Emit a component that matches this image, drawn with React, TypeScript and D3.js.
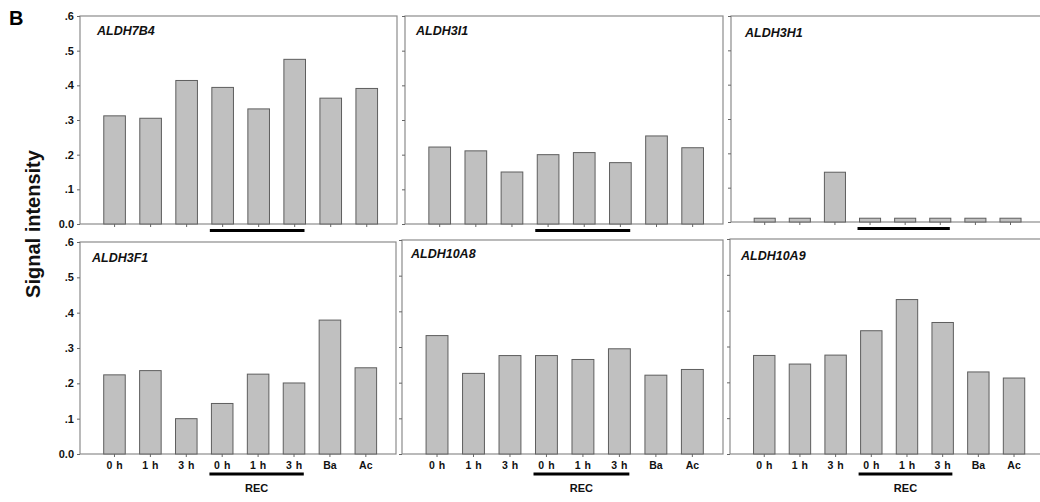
import React, { useRef, useEffect } from "react";
import * as d3 from "d3";

// categories on the x axis (the last three time points are REC)
const categories = ["0 h", "1 h", "3 h", "0 h", "1 h", "3 h", "Ba", "Ac"];
const recIndex = [3, 5];
const yTicks = [0, 0.1, 0.2, 0.3, 0.4, 0.5, 0.6];
const yTickLabels = ["0.0", ".1", ".2", ".3", ".4", ".5", ".6"];

// signal intensity per gene
const ALDH7B4 = [0.312, 0.305, 0.414, 0.394, 0.332, 0.475, 0.363, 0.391];
const ALDH3I1 = [0.222, 0.211, 0.15, 0.2, 0.206, 0.177, 0.254, 0.22];
const ALDH3H1 = [0.011, 0.011, 0.145, 0.011, 0.011, 0.011, 0.011, 0.011];
const ALDH3F1 = [0.224, 0.236, 0.1, 0.143, 0.226, 0.201, 0.379, 0.244];
const ALDH10A8 = [0.332, 0.226, 0.276, 0.276, 0.265, 0.295, 0.221, 0.237];
const ALDH10A9 = [0.275, 0.251, 0.276, 0.344, 0.431, 0.367, 0.229, 0.212];

const FONT = "'Liberation Sans', Arial, sans-serif";

const panels = [
  { name: "ALDH7B4", values: ALDH7B4, x0: 80, x1: 397, top: 16, bottom: 224, tx: 17, ty: 19, showY: true, showX: false, cut: 0 },
  { name: "ALDH3I1", values: ALDH3I1, x0: 405, x1: 723, top: 16, bottom: 224, tx: 11, ty: 19, showY: false, showX: false, cut: 0 },
  { name: "ALDH3H1", values: ALDH3H1, x0: 731, x1: 1040, top: 16, bottom: 222, tx: 14, ty: 21, showY: false, showX: false, cut: 20 },
  { name: "ALDH3F1", values: ALDH3F1, x0: 80, x1: 396, top: 242, bottom: 454, tx: 12, ty: 20, showY: true, showX: true, cut: 0 },
  { name: "ALDH10A8", values: ALDH10A8, x0: 402, x1: 723, top: 240, bottom: 454, tx: 9, ty: 18, showY: false, showX: true, cut: 0 },
  { name: "ALDH10A9", values: ALDH10A9, x0: 730, x1: 1044, top: 239, bottom: 454, tx: 11, ty: 21, showY: false, showX: true, cut: 20 },
];

const App = () => {
  const container = useRef<SVGSVGElement>(null);
  const width = 1040;
  const height = 502;

  useEffect(() => {
    const svg = d3.select(container.current);
    svg.selectAll("*").remove();

    panels.forEach((p) => {
      const x = d3
        .scaleBand<number>()
        .domain(d3.range(categories.length))
        .range([p.x0, p.x1])
        .paddingInner(0.4)
        .paddingOuter(0.6)
        .align(0.55);

      const y = d3.scaleLinear().domain([0, 0.6]).range([p.bottom, p.top]);

      const g = svg.append("g");

      // frame
      g.append("rect")
        .attr("x", p.x0)
        .attr("y", p.top)
        .attr("width", p.x1 - p.x0 + p.cut)
        .attr("height", p.bottom - p.top)
        .attr("fill", "none")
        .attr("stroke", "#8c8c8c")
        .attr("stroke-width", 1.2);

      // bars
      g.selectAll("rect.bar")
        .data(p.values)
        .enter()
        .append("rect")
        .attr("class", "bar")
        .attr("x", (d, i) => x(i)!)
        .attr("y", (d) => y(d))
        .attr("width", x.bandwidth())
        .attr("height", (d) => y(0) - y(d))
        .attr("fill", "#c0c0c0")
        .attr("stroke", "#5e5e5e")
        .attr("stroke-width", 1);

      // y axis
      const yAxis = d3
        .axisLeft(y)
        .tickValues(yTicks)
        .tickSize(3)
        .tickPadding(3)
        .tickFormat((d, i) => (p.showY ? yTickLabels[i] : ""));
      const ya = g.append("g").attr("transform", `translate(${p.x0},0)`).call(yAxis);
      ya.select(".domain").remove();
      ya.selectAll("line").attr("stroke", "#666");
      ya.selectAll("text")
        .style("font-family", FONT)
        .style("font-size", "11px")
        .style("font-weight", "bold")
        .attr("fill", "#111");

      // x axis
      const xAxis = d3
        .axisBottom(x)
        .tickSize(3)
        .tickPadding(5)
        .tickFormat((d) => (p.showX ? categories[d] : ""));
      const xa = g.append("g").attr("transform", `translate(0,${p.bottom})`).call(xAxis);
      xa.select(".domain").remove();
      xa.selectAll("line").attr("stroke", "#666");
      xa.selectAll("text")
        .style("font-family", FONT)
        .style("font-size", "10.5px")
        .style("font-weight", "bold")
        .style("word-spacing", "1px")
        .attr("fill", "#111");

      // REC underline
      const recX0 = x(recIndex[0])! - 2;
      const recX1 = x(recIndex[1])! + x.bandwidth() - 1;
      const recY = p.showX ? p.bottom + 20 : p.bottom + 6.5;
      g.append("line")
        .attr("x1", recX0)
        .attr("x2", recX1)
        .attr("y1", recY)
        .attr("y2", recY)
        .attr("stroke", "#000")
        .attr("stroke-width", 3);

      if (p.showX) {
        g.append("text")
          .attr("x", (recX0 + recX1) / 2)
          .attr("y", p.bottom + 38)
          .attr("text-anchor", "middle")
          .style("font-family", FONT)
          .style("font-size", "11px")
          .style("font-weight", "bold")
          .attr("fill", "#111")
          .text("REC");
      }

      // gene title
      g.append("text")
        .attr("x", p.x0 + p.tx)
        .attr("y", p.top + p.ty)
        .style("font-family", FONT)
        .style("font-size", "12.5px")
        .style("font-weight", "bold")
        .style("font-style", "italic")
        .attr("fill", "#111")
        .text(p.name);
    });

    // y label
    svg
      .append("text")
      .attr("transform", "translate(33,224) rotate(-90)")
      .attr("text-anchor", "middle")
      .attr("dominant-baseline", "central")
      .style("font-family", FONT)
      .style("font-size", "20px")
      .style("font-weight", "bold")
      .attr("fill", "#111")
      .text("Signal intensity");

    // panel letter
    svg
      .append("text")
      .attr("x", 9)
      .attr("y", 25)
      .style("font-family", FONT)
      .style("font-size", "20px")
      .style("font-weight", "bold")
      .attr("fill", "#000")
      .text("B");
  }, []);

  return (
    <svg
      ref={container}
      width={width}
      height={height}
      style={{ position: "absolute", left: 0, top: 0, background: "#fff" }}
    />
  );
};

export default App;
